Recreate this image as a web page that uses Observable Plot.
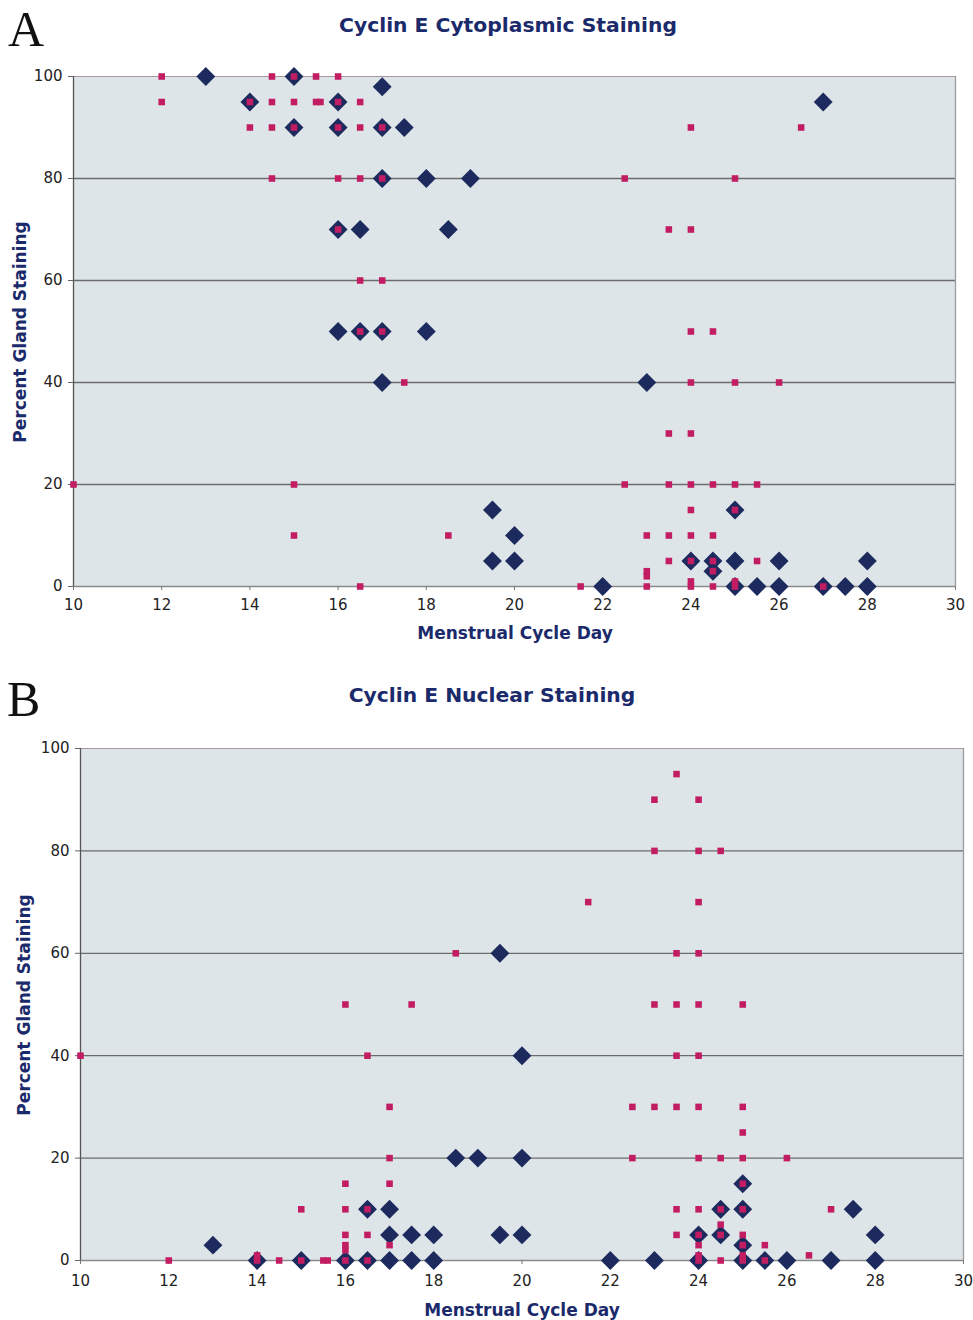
<!DOCTYPE html>
<html><head><meta charset="utf-8">
<script src="https://cdn.jsdelivr.net/npm/d3@7"></script>
<script src="https://cdn.jsdelivr.net/npm/@observablehq/plot@0.6"></script>
<style>
body{margin:0;background:#fff;width:973px;height:1320px;position:relative;overflow:hidden;font-family:"DejaVu Sans",Verdana,sans-serif}
.abs{position:absolute}
.letter{font-family:"Liberation Serif","DejaVu Serif",serif;font-size:50px;line-height:normal;color:#111}
.title{font-weight:bold;font-size:20.3px;color:#1b2a6b;transform:translate(-50%,-50%);white-space:nowrap}
.xlab{font-weight:bold;font-size:17px;color:#1b2a6b;transform:translate(-50%,-50%);white-space:nowrap}
.ylab{font-weight:bold;font-size:17px;color:#1b2a6b;transform:translate(-50%,-50%) rotate(-90deg);white-space:nowrap}
</style>
</head><body>
<div class="abs letter" style="left:8px;top:0px">A</div>
<div class="abs title" style="left:508px;top:25px">Cyclin E Cytoplasmic Staining</div>
<div class="abs" id="panelA" style="left:0;top:60px"></div>
<div class="abs ylab" style="left:20px;top:332px">Percent Gland Staining</div>
<div class="abs xlab" style="left:515px;top:633px">Menstrual Cycle Day</div>

<div class="abs letter" style="left:7px;top:670px">B</div>
<div class="abs title" style="left:492px;top:695px">Cyclin E Nuclear Staining</div>
<div class="abs" id="panelB" style="left:0;top:730px"></div>
<div class="abs ylab" style="left:24px;top:1005px">Percent Gland Staining</div>
<div class="abs xlab" style="left:522px;top:1310px">Menstrual Cycle Day</div>
<script>
// ---------- Data ----------
const xTicks = [10, 12, 14, 16, 18, 20, 22, 24, 26, 28, 30];
const yTicks = [0, 20, 40, 60, 80, 100];
const gridLines = [20, 40, 60, 80];

// Panel A: Cytoplasmic staining
const aDiamondDay = [13, 15, 17, 14, 16, 15, 16, 17, 17.5, 17, 18, 19, 16, 16.5, 18.5, 16, 16.5, 17, 18, 17, 19.5, 20, 19.5, 20, 23, 25, 24, 24.5, 25, 26, 28, 24.5, 22, 25, 25.5, 26, 27, 27.5, 28, 27];
const aDiamondPct = [100, 100, 98, 95, 95, 90, 90, 90, 90, 80, 80, 80, 70, 70, 70, 50, 50, 50, 50, 40, 15, 10, 5, 5, 40, 15, 5, 5, 5, 5, 5, 3, 0, 0, 0, 0, 0, 0, 0, 95];
const aSquareDay = [12, 14.5, 15, 15.5, 16,
  12, 14, 14.5, 15, 15.5, 15.6, 16, 16.5,
  14, 14.5, 15, 16, 16.5, 17, 24, 26.5,
  14.5, 16, 16.5, 17, 22.5, 25,
  16, 23.5, 24,
  16.5, 17,
  16.5, 17, 24, 24.5,
  17.5, 24, 25, 26,
  23.5, 24,
  10, 15, 22.5, 23.5, 24, 24.5, 25, 25.5,
  24, 25,
  15, 18.5, 23, 23.5, 24, 24.5,
  23.5, 24, 24.5, 25.5,
  23, 24.5,
  23,
  24, 25,
  16.5, 21.5, 23, 24, 24.5, 25, 27];
const aSquarePct = [100, 100, 100, 100, 100,
  95, 95, 95, 95, 95, 95, 95, 95,
  90, 90, 90, 90, 90, 90, 90, 90,
  80, 80, 80, 80, 80, 80,
  70, 70, 70,
  60, 60,
  50, 50, 50, 50,
  40, 40, 40, 40,
  30, 30,
  20, 20, 20, 20, 20, 20, 20, 20,
  15, 15,
  10, 10, 10, 10, 10, 10,
  5, 5, 5, 5,
  3, 3,
  2,
  1, 1,
  0, 0, 0, 0, 0, 0, 0];

// Panel B: Nuclear staining
const bDiamondDay = [19.5, 13, 14, 15, 16, 16.5, 17, 17.5, 18, 16.5, 17, 17, 17.5, 18, 18.5, 19, 20, 19.5, 20, 20, 22, 23, 24, 25, 25.5, 26, 27, 28, 24, 24.5, 25, 24.5, 25, 25, 27.5, 28];
const bDiamondPct = [60, 3, 0, 0, 0, 0, 0, 0, 0, 10, 10, 5, 5, 5, 20, 20, 20, 5, 5, 40, 0, 0, 0, 0, 0, 0, 0, 0, 5, 5, 3, 10, 10, 15, 10, 5];
const bSquareDay = [23.5,
  23, 24,
  23, 24, 24.5,
  21.5, 24,
  18.5, 23.5, 24,
  16, 17.5, 23, 23.5, 24, 25,
  10, 16.5, 23.5, 24,
  17, 22.5, 23, 23.5, 24, 25,
  25,
  17, 22.5, 24, 24.5, 25, 26,
  16, 17, 25,
  15, 16, 16.5, 23.5, 24, 24.5, 25, 27,
  24.5,
  16, 16.5, 23.5, 24, 24.5, 25,
  16, 17, 24, 25, 25.5,
  16,
  14, 24, 25, 26.5,
  12, 14, 14.5, 15, 15.5, 15.6, 16, 16.5, 24, 24.5, 25, 25.5];
const bSquarePct = [95,
  90, 90,
  80, 80, 80,
  70, 70,
  60, 60, 60,
  50, 50, 50, 50, 50, 50,
  40, 40, 40, 40,
  30, 30, 30, 30, 30, 30,
  25,
  20, 20, 20, 20, 20, 20,
  15, 15, 15,
  10, 10, 10, 10, 10, 10, 10, 10,
  7,
  5, 5, 5, 5, 5, 5,
  3, 3, 3, 3, 3,
  2,
  1, 1, 1, 1,
  0, 0, 0, 0, 0, 0, 0, 0, 0, 0, 0, 0];

// ---------- Build ----------
const zip = (xs, ys) => xs.map((d, i) => ({day: d, pct: ys[i]}));

function panel(diamonds, squares, m) {
  return Plot.plot({
    width: 973,
    height: m.height,
    marginLeft: m.left,
    marginRight: m.right,
    marginTop: m.top,
    marginBottom: m.bottom,
    style: {fontFamily: "'DejaVu Sans', Verdana, sans-serif", fontSize: "15px", background: "transparent", overflow: "visible", color: "#222"},
    x: {domain: [10, 30], label: null},
    y: {domain: [0, 100], label: null},
    marks: [
      Plot.frame({fill: "#dee5e8", stroke: null}),
      Plot.ruleY(gridLines, {stroke: "#6c6c6c", strokeWidth: 1.3}),
      Plot.ruleY([100], {stroke: "#a8969f", strokeWidth: 1.2}),
      Plot.ruleX([30], {stroke: "#9c9c9c", strokeWidth: 1.3}),
      Plot.ruleY([0], {stroke: "#8a8a8a", strokeWidth: 1.3}),
      Plot.ruleX([10], {stroke: "#555", strokeWidth: 1.3}),
      Plot.axisX({ticks: xTicks, tickSize: 4, tickPadding: m.xpad, stroke: "#777", fill: "#222", fontSize: 15, label: null}),
      Plot.axisY({ticks: yTicks, tickSize: 5, tickPadding: 6, stroke: "#666", fill: "#222", fontSize: 15, label: null}),
      Plot.dot(diamonds, {x: "day", y: "pct", symbol: "diamond2", r: 8.5, fill: "#1c2a5e"}),
      Plot.dot(squares, {x: "day", y: "pct", symbol: "square", r: 3.7, fill: "#c21d63"})
    ]
  });
}

document.getElementById("panelA").append(
  panel(zip(aDiamondDay, aDiamondPct), zip(aSquareDay, aSquarePct),
        {height: 560, left: 73, right: 18, top: 16, bottom: 34, xpad: 9})
);
document.getElementById("panelB").append(
  panel(zip(bDiamondDay, bDiamondPct), zip(bSquareDay, bSquarePct),
        {height: 570, left: 80, right: 10, top: 18, bottom: 40, xpad: 11})
);
</script>
</body></html>
